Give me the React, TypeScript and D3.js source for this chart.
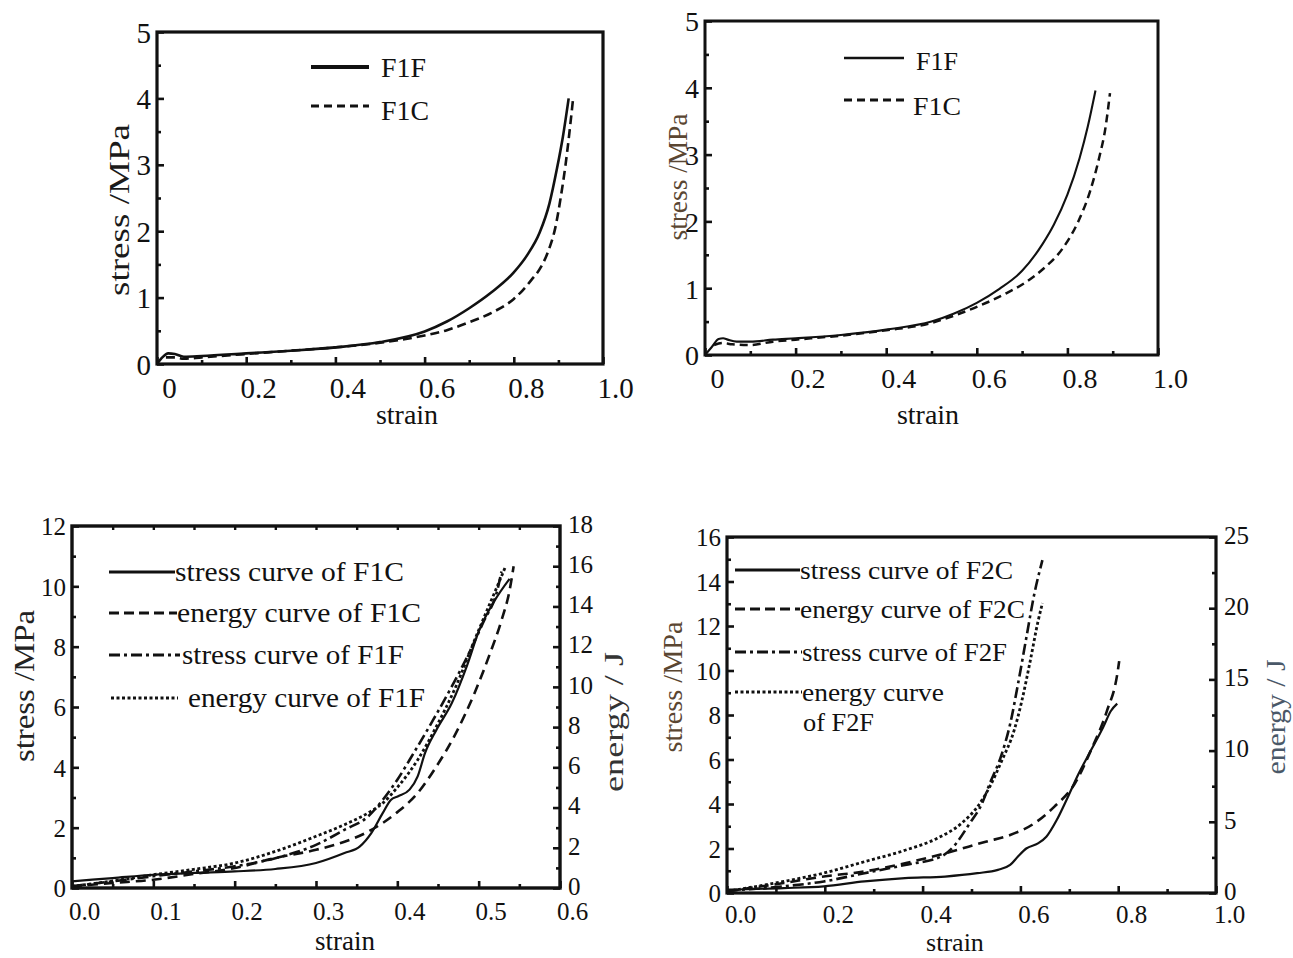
import React, { useEffect, useRef } from 'react'
import * as d3 from 'd3'

// ---- panel A (top left) : stress-strain, F1F / F1C
const aStrainF1F = [0, 0.012, 0.025, 0.04, 0.06, 0.1, 0.2, 0.3, 0.4, 0.5, 0.6, 0.65, 0.7, 0.75, 0.8, 0.83, 0.858, 0.88, 0.897, 0.91, 0.923]
const aStressF1F = [0, 0.1, 0.16, 0.15, 0.11, 0.12, 0.16, 0.2, 0.25, 0.33, 0.49, 0.64, 0.84, 1.08, 1.38, 1.64, 1.98, 2.42, 2.95, 3.42, 4.0]
const aStrainF1C = [0.02, 0.04, 0.06, 0.1, 0.2, 0.3, 0.4, 0.5, 0.6, 0.65, 0.7, 0.75, 0.8, 0.82, 0.84, 0.86, 0.88, 0.893, 0.905, 0.916, 0.933]
const aStressF1C = [0.1, 0.1, 0.08, 0.1, 0.15, 0.2, 0.25, 0.32, 0.43, 0.51, 0.63, 0.77, 0.98, 1.11, 1.27, 1.45, 1.75, 2.05, 2.5, 3.0, 4.0]

// ---- panel B (top right)
const bStrainF1F = [0, 0.015, 0.03, 0.04, 0.05, 0.07, 0.1, 0.15, 0.2, 0.3, 0.4, 0.5, 0.55, 0.6, 0.65, 0.7, 0.745, 0.77, 0.8, 0.827, 0.845, 0.862]
const bStressF1F = [0, 0.12, 0.24, 0.25, 0.23, 0.2, 0.2, 0.23, 0.25, 0.3, 0.38, 0.5, 0.62, 0.78, 0.99, 1.26, 1.66, 1.95, 2.4, 2.95, 3.42, 3.96]
const bStrainF1C = [0.02, 0.04, 0.06, 0.1, 0.15, 0.2, 0.3, 0.4, 0.5, 0.55, 0.6, 0.667, 0.706, 0.745, 0.79, 0.824, 0.85, 0.87, 0.884, 0.894]
const bStressF1C = [0.15, 0.18, 0.16, 0.15, 0.2, 0.23, 0.29, 0.37, 0.48, 0.59, 0.72, 0.93, 1.08, 1.28, 1.6, 2.0, 2.45, 2.95, 3.4, 3.92]

// ---- panel C (bottom left) : stress (left axis) and energy (right axis)
const cStrainStressF1C = [0, 0.05, 0.1, 0.15, 0.2, 0.25, 0.3, 0.335, 0.354, 0.368, 0.382, 0.392, 0.401, 0.415, 0.425, 0.434, 0.448, 0.467, 0.486, 0.5, 0.519, 0.538]
const cStressF1C = [0.22, 0.33, 0.44, 0.5, 0.55, 0.63, 0.83, 1.16, 1.38, 1.82, 2.48, 2.92, 3.04, 3.26, 3.7, 4.47, 5.24, 6.13, 7.4, 8.5, 9.5, 10.25]
const cStrainEnergyF1C = [0, 0.05, 0.1, 0.15, 0.2, 0.25, 0.3, 0.335, 0.364, 0.382, 0.401, 0.425, 0.448, 0.472, 0.495, 0.514, 0.528, 0.538, 0.543]
const cEnergyF1C = [0.08, 0.25, 0.41, 0.7, 0.99, 1.49, 1.9, 2.3, 2.8, 3.23, 3.8, 4.72, 6.04, 7.7, 9.7, 11.67, 13.3, 14.8, 16.0]
const cStrainStressF1F = [0, 0.05, 0.1, 0.15, 0.2, 0.25, 0.3, 0.335, 0.364, 0.382, 0.4, 0.42, 0.444, 0.467, 0.486, 0.505, 0.524, 0.528]
const cStressF1F = [0.06, 0.22, 0.39, 0.55, 0.72, 0.99, 1.43, 1.93, 2.37, 2.92, 3.59, 4.47, 5.57, 6.68, 7.67, 8.77, 9.99, 10.49]
const cStrainEnergyF1F = [0, 0.05, 0.1, 0.15, 0.2, 0.25, 0.3, 0.335, 0.364, 0.382, 0.401, 0.425, 0.448, 0.472, 0.495, 0.514, 0.526, 0.533]
const cEnergyF1F = [0.08, 0.35, 0.66, 0.93, 1.24, 1.82, 2.57, 3.15, 3.73, 4.22, 5.05, 6.37, 8.03, 10.02, 12.33, 14.16, 15.3, 15.98]

// ---- panel D (bottom right)
const dStrainStressF2C = [0, 0.116, 0.198, 0.281, 0.364, 0.446, 0.512, 0.554, 0.579, 0.595, 0.612, 0.636, 0.653, 0.674, 0.694, 0.719, 0.744, 0.769, 0.785, 0.798]
const dStressF2C = [0.15, 0.22, 0.3, 0.52, 0.67, 0.74, 0.89, 1.04, 1.26, 1.64, 2.0, 2.23, 2.53, 3.27, 4.17, 5.36, 6.4, 7.44, 8.18, 8.51]
const dStrainEnergyF2C = [0, 0.116, 0.198, 0.281, 0.364, 0.446, 0.529, 0.579, 0.628, 0.669, 0.711, 0.744, 0.777, 0.798, 0.802]
const dEnergyF2C = [0.12, 0.7, 1.16, 1.51, 2.09, 2.79, 3.6, 4.07, 4.88, 6.05, 7.67, 10.0, 12.79, 15.35, 16.28]
const dStrainStressF2F = [0, 0.116, 0.198, 0.281, 0.364, 0.438, 0.463, 0.496, 0.521, 0.537, 0.562, 0.579, 0.595, 0.612, 0.628, 0.645]
const dStressF2F = [0.1, 0.3, 0.52, 0.89, 1.26, 1.64, 2.08, 3.12, 4.0, 4.9, 6.25, 7.59, 9.38, 11.46, 13.39, 14.96]
const dStrainEnergyF2F = [0, 0.116, 0.198, 0.281, 0.364, 0.43, 0.479, 0.512, 0.537, 0.562, 0.587, 0.603, 0.62, 0.636, 0.645]
const dEnergyF2F = [0.12, 0.81, 1.4, 2.2, 3.0, 3.84, 4.88, 6.05, 7.44, 9.3, 11.4, 13.5, 16.28, 19.07, 20.35]

// ---- tick values / labels
const ticks01 = [0, 0.2, 0.4, 0.6, 0.8, 1.0]
const ticks01LabelsShort = ['0', '0.2', '0.4', '0.6', '0.8', '1.0']
const ticks01Labels = ['0.0', '0.2', '0.4', '0.6', '0.8', '1.0']
const ticks06 = [0, 0.1, 0.2, 0.3, 0.4, 0.5, 0.6]
const ticks06Labels = ['0.0', '0.1', '0.2', '0.3', '0.4', '0.5', '0.6']
const stress5 = [0, 1, 2, 3, 4, 5]
const stress12 = [0, 2, 4, 6, 8, 10, 12]
const energy18 = [0, 2, 4, 6, 8, 10, 12, 14, 16, 18]
const stress16 = [0, 2, 4, 6, 8, 10, 12, 14, 16]
const energy25 = [0, 5, 10, 15, 20, 25]

const legendA = ['F1F', 'F1C']
const legendC = ['stress curve of F1C', 'energy curve of F1C', 'stress curve of F1F', 'energy curve of F1F']
const legendD = ['stress curve of F2C', 'energy curve of F2C', 'stress curve of F2F', 'energy curve', 'of F2F']

const FONT = '"Liberation Serif","Times New Roman",serif'
const SOLID = ''
const DASH = '10,6'
const DASHDOT = '11,4,3,4'
const DOT = '3,2.5'

type Series = { x: number[]; y: number[]; dash: string; w: number; right?: boolean }
type Leg = { text: string; x1?: number; x2?: number; ly?: number; dash?: string; w?: number; tx: number; ty: number; len: number }
type Title = { text: string; x: number; y: number; size: number; len?: number; color: string }

interface Panel {
  l: number; r: number; t: number; b: number
  xDomain: [number, number]; yDomain: [number, number]; y2Domain?: [number, number]
  xMajor: number[]; xLabels: string[]; xMinor: number[]
  yMajor: number[]; yMinor: number[]
  y2Major?: number[]; y2Minor?: number[]
  topMinor?: number[]
  tickSize: number; labelDx: number; labelY: number; frameW: number
  series: Series[]; legend: Leg[]; legendSize: number
  xTitle: Title; yTitle: Title; y2Title?: Title
}

const panels: Panel[] = [
  {
    l: 157, r: 603, t: 32, b: 364,
    xDomain: [0, 1], yDomain: [0, 5],
    xMajor: ticks01, xLabels: ticks01LabelsShort, xMinor: d3.range(0.1, 1, 0.2),
    yMajor: stress5, yMinor: d3.range(0.5, 5, 1),
    tickSize: 29, labelDx: 12, labelY: 388, frameW: 3.2,
    series: [
      { x: aStrainF1F, y: aStressF1F, dash: SOLID, w: 2.6 },
      { x: aStrainF1C, y: aStressF1C, dash: '9,5', w: 2.6 },
    ],
    legendSize: 27,
    legend: [
      { text: legendA[0], x1: 311, x2: 369, ly: 67, dash: SOLID, w: 4.2, tx: 381, ty: 68, len: 45 },
      { text: legendA[1], x1: 311, x2: 369, ly: 106, dash: '8,5', w: 3, tx: 381, ty: 111, len: 48 },
    ],
    xTitle: { text: 'strain', x: 407, y: 414, size: 28, color: '#111' },
    yTitle: { text: 'stress /MPa', x: 118, y: 210, size: 30, len: 172, color: '#1a1a1a' },
  },
  {
    l: 705, r: 1158, t: 21, b: 355,
    xDomain: [0, 1], yDomain: [0, 5],
    xMajor: ticks01, xLabels: ticks01LabelsShort, xMinor: d3.range(0.1, 1, 0.2),
    yMajor: stress5, yMinor: d3.range(0.5, 5, 1),
    tickSize: 28, labelDx: 12, labelY: 378, frameW: 3,
    series: [
      { x: bStrainF1F, y: bStressF1F, dash: SOLID, w: 2.1 },
      { x: bStrainF1C, y: bStressF1C, dash: '8,5', w: 2.5 },
    ],
    legendSize: 26,
    legend: [
      { text: legendA[0], x1: 844, x2: 904, ly: 58, dash: SOLID, w: 2.6, tx: 916, ty: 61, len: 42 },
      { text: legendA[1], x1: 844, x2: 904, ly: 100, dash: '8,5', w: 3, tx: 913, ty: 106, len: 48 },
    ],
    xTitle: { text: 'strain', x: 928, y: 414, size: 28, color: '#111' },
    yTitle: { text: 'stress /MPa', x: 678, y: 177, size: 27, len: 127, color: '#5a4632' },
  },
  {
    l: 72, r: 560, t: 526, b: 888,
    xDomain: [0, 0.6], yDomain: [0, 12], y2Domain: [0, 18],
    xMajor: ticks06, xLabels: ticks06Labels, xMinor: d3.range(0.05, 0.6, 0.1),
    yMajor: stress12, yMinor: d3.range(1, 12, 2),
    y2Major: energy18, y2Minor: d3.range(1, 18, 2),
    topMinor: d3.range(0.05, 0.6, 0.05),
    tickSize: 25, labelDx: 12, labelY: 911, frameW: 3.4,
    series: [
      { x: cStrainStressF1C, y: cStressF1C, dash: SOLID, w: 2.2 },
      { x: cStrainEnergyF1C, y: cEnergyF1C, dash: DASH, w: 2.6, right: true },
      { x: cStrainStressF1F, y: cStressF1F, dash: DASHDOT, w: 2.6 },
      { x: cStrainEnergyF1F, y: cEnergyF1F, dash: DOT, w: 2.8, right: true },
    ],
    legendSize: 27,
    legend: [
      { text: legendC[0], x1: 109, x2: 175, ly: 572, dash: SOLID, w: 3, tx: 175, ty: 572, len: 229 },
      { text: legendC[1], x1: 109, x2: 177, ly: 613, dash: '10,5', w: 3, tx: 177, ty: 613, len: 244 },
      { text: legendC[2], x1: 109, x2: 180, ly: 655, dash: DASHDOT, w: 3, tx: 182, ty: 655, len: 222 },
      { text: legendC[3], x1: 111, x2: 178, ly: 698, dash: DOT, w: 3, tx: 188, ty: 698, len: 237 },
    ],
    xTitle: { text: 'strain', x: 345, y: 941, size: 27, color: '#111' },
    yTitle: { text: 'stress /MPa', x: 24, y: 686, size: 29, len: 152, color: '#222' },
    y2Title: { text: 'energy / J', x: 613, y: 722, size: 28, len: 140, color: '#333' },
  },
  {
    l: 727, r: 1216, t: 537, b: 893,
    xDomain: [0, 1], yDomain: [0, 16], y2Domain: [0, 25],
    xMajor: ticks01, xLabels: ticks01Labels, xMinor: d3.range(0.1, 1, 0.2),
    yMajor: stress16, yMinor: d3.range(1, 16, 2),
    y2Major: energy25, y2Minor: d3.range(2.5, 25, 5),
    tickSize: 25, labelDx: 13, labelY: 914, frameW: 3.2,
    series: [
      { x: dStrainStressF2C, y: dStressF2C, dash: SOLID, w: 2.2 },
      { x: dStrainEnergyF2C, y: dEnergyF2C, dash: DASH, w: 2.6, right: true },
      { x: dStrainStressF2F, y: dStressF2F, dash: DASHDOT, w: 2.6 },
      { x: dStrainEnergyF2F, y: dEnergyF2F, dash: DOT, w: 2.8, right: true },
    ],
    legendSize: 26,
    legend: [
      { text: legendD[0], x1: 735, x2: 800, ly: 570, dash: SOLID, w: 3, tx: 800, ty: 570, len: 213 },
      { text: legendD[1], x1: 735, x2: 800, ly: 609, dash: '10,5', w: 3, tx: 800, ty: 609, len: 225 },
      { text: legendD[2], x1: 735, x2: 802, ly: 652, dash: DASHDOT, w: 3, tx: 802, ty: 652, len: 205 },
      { text: legendD[3], x1: 735, x2: 802, ly: 692, dash: DOT, w: 3, tx: 802, ty: 692, len: 142 },
      { text: legendD[4], tx: 803, ty: 722, len: 71 },
    ],
    xTitle: { text: 'strain', x: 955, y: 942, size: 26, color: '#111' },
    yTitle: { text: 'stress /MPa', x: 672, y: 687, size: 28, len: 131, color: '#5a4632' },
    y2Title: { text: 'energy / J', x: 1275, y: 717, size: 28, len: 115, color: '#4a5868' },
  },
]

function styleTicks(sel: any, width: number) {
  sel.select('.domain').remove()
  sel.selectAll('line').attr('stroke', '#111').attr('stroke-width', width)
}

function drawPanel(svg: any, p: Panel) {
  const g = svg.append('g')
  const x = d3.scaleLinear().domain(p.xDomain).range([p.l, p.r])
  const y = d3.scaleLinear().domain(p.yDomain).range([p.b, p.t])
  const y2 = p.y2Domain ? d3.scaleLinear().domain(p.y2Domain).range([p.b, p.t]) : y

  // curves
  p.series.forEach(s => {
    const sy = s.right ? y2 : y
    const pts: [number, number][] = s.x.map((v, i) => [v, s.y[i]])
    const line = d3.line<[number, number]>()
      .x(d => x(d[0]))
      .y(d => sy(d[1]))
      .curve(d3.curveMonotoneX)
    g.append('path')
      .attr('d', line(pts))
      .attr('fill', 'none')
      .attr('stroke', '#111')
      .attr('stroke-width', s.w)
      .attr('stroke-dasharray', s.dash || null)
  })

  // bottom axis (ticks point inward, labels sit a bit right of ticks as in the original)
  const bx = g.append('g').attr('transform', `translate(0,${p.b})`)
  bx.call(d3.axisBottom(x).tickValues(p.xMajor).tickSize(-7).tickFormat((d, i) => p.xLabels[i]))
  styleTicks(bx, 2.6)
  bx.selectAll('text')
    .attr('y', p.labelY - p.b)
    .attr('dy', '0.35em')
    .attr('dx', p.labelDx)
    .attr('font-family', FONT)
    .attr('font-size', p.tickSize)
    .attr('fill', '#111')
  const bxm = g.append('g').attr('transform', `translate(0,${p.b})`)
  bxm.call(d3.axisBottom(x).tickValues(p.xMinor).tickSize(-4).tickFormat(() => ''))
  styleTicks(bxm, 2.6)

  if (p.topMinor) {
    const tx = g.append('g').attr('transform', `translate(0,${p.t})`)
    tx.call(d3.axisTop(x).tickValues(p.topMinor).tickSize(-4).tickFormat(() => ''))
    styleTicks(tx, 2.4)
  }

  // left axis
  const ly = g.append('g').attr('transform', `translate(${p.l},0)`)
  ly.call(d3.axisLeft(y).tickValues(p.yMajor).tickSize(-7).tickFormat(d3.format('d')))
  styleTicks(ly, 2.6)
  ly.selectAll('text')
    .attr('x', -6)
    .attr('dy', '0.35em')
    .attr('font-family', FONT)
    .attr('font-size', p.tickSize)
    .attr('fill', '#111')
  const lym = g.append('g').attr('transform', `translate(${p.l},0)`)
  lym.call(d3.axisLeft(y).tickValues(p.yMinor).tickSize(-4).tickFormat(() => ''))
  styleTicks(lym, 2.6)

  // right axis
  if (p.y2Major && p.y2Minor) {
    const ry = g.append('g').attr('transform', `translate(${p.r},0)`)
    ry.call(d3.axisRight(y2).tickValues(p.y2Major).tickSize(-7).tickFormat(d3.format('d')))
    styleTicks(ry, 2.6)
    ry.selectAll('text')
      .attr('x', 8)
      .attr('dy', '0.25em')
      .attr('font-family', FONT)
      .attr('font-size', p.tickSize)
      .attr('fill', '#111')
    const rym = g.append('g').attr('transform', `translate(${p.r},0)`)
    rym.call(d3.axisRight(y2).tickValues(p.y2Minor).tickSize(-4).tickFormat(() => ''))
    styleTicks(rym, 2.6)
  }

  // frame
  g.append('rect')
    .attr('x', p.l).attr('y', p.t)
    .attr('width', p.r - p.l).attr('height', p.b - p.t)
    .attr('fill', 'none')
    .attr('stroke', '#111')
    .attr('stroke-width', p.frameW)

  // legend
  p.legend.forEach(r => {
    if (r.x1 !== undefined) {
      g.append('line')
        .attr('x1', r.x1).attr('x2', r.x2).attr('y1', r.ly).attr('y2', r.ly)
        .attr('stroke', '#111')
        .attr('stroke-width', r.w)
        .attr('stroke-dasharray', r.dash || null)
    }
    g.append('text')
      .attr('x', r.tx).attr('y', r.ty)
      .attr('dy', '0.35em')
      .attr('font-family', FONT)
      .attr('font-size', p.legendSize)
      .attr('fill', '#111')
      .attr('textLength', r.len)
      .attr('lengthAdjust', 'spacingAndGlyphs')
      .text(r.text)
  })

  // titles
  g.append('text')
    .attr('x', p.xTitle.x).attr('y', p.xTitle.y)
    .attr('dy', '0.35em')
    .attr('text-anchor', 'middle')
    .attr('font-family', FONT)
    .attr('font-size', p.xTitle.size)
    .attr('fill', p.xTitle.color)
    .text(p.xTitle.text)

  const titles = p.y2Title ? [p.yTitle, p.y2Title] : [p.yTitle]
  titles.forEach(t => {
    g.append('text')
      .attr('transform', `translate(${t.x},${t.y}) rotate(-90)`)
      .attr('dy', '0.35em')
      .attr('text-anchor', 'middle')
      .attr('font-family', FONT)
      .attr('font-size', t.size)
      .attr('fill', t.color)
      .attr('textLength', t.len ?? null)
      .attr('lengthAdjust', 'spacingAndGlyphs')
      .text(t.text)
  })
}

export default function App() {
  const ref = useRef<SVGSVGElement>(null)

  useEffect(() => {
    const svg = d3.select(ref.current)
    svg.selectAll('*').remove()
    panels.forEach(p => drawPanel(svg, p))
  }, [])

  return (
    <svg
      ref={ref}
      width={1293}
      height={958}
      style={{ position: 'absolute', left: 0, top: 0, background: '#fff' }}
    />
  )
}
